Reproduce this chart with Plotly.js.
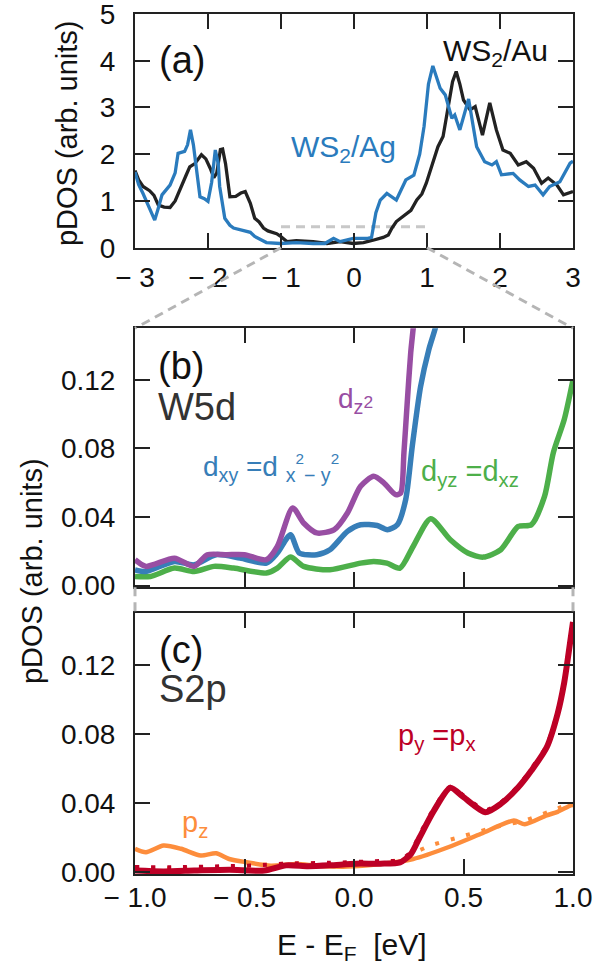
<!DOCTYPE html>
<html><head><meta charset="utf-8">
<script src="https://cdn.plot.ly/plotly-3.0.1.min.js"></script>
<style>html,body{margin:0;padding:0;background:#fff;} #plot{width:598px;height:971px;}</style>
</head><body><div id="plot"></div>
<script>
// ---------- Panel (a): total pDOS, E - EF in eV ----------
const auX = [-3.0,-2.95,-2.89,-2.80,-2.74,-2.68,-2.60,-2.52,-2.45,-2.38,-2.30,-2.25,-2.18,-2.09,-2.03,-1.97,-1.92,-1.88,-1.83,-1.80,-1.76,-1.70,-1.62,-1.55,-1.49,-1.42,-1.36,-1.30,-1.24,-1.18,-1.13,-1.06,-1.01,-0.92,-0.79,-0.56,-0.37,-0.19,-0.01,0.13,0.26,0.40,0.47,0.52,0.58,0.70,0.78,0.86,0.93,0.99,1.08,1.15,1.22,1.29,1.35,1.40,1.45,1.50,1.59,1.66,1.76,1.86,1.95,2.04,2.14,2.25,2.36,2.46,2.57,2.66,2.78,2.87,3.0];
const auY = [1.65,1.45,1.31,1.22,1.12,0.91,0.87,0.86,1.00,1.24,1.55,1.73,1.80,1.99,1.90,1.70,1.50,1.60,2.10,2.11,1.80,1.09,1.10,1.17,1.20,0.95,0.63,0.55,0.42,0.36,0.34,0.30,0.25,0.13,0.15,0.13,0.09,0.13,0.09,0.11,0.16,0.22,0.27,0.42,0.56,0.70,0.80,1.02,1.15,1.38,1.81,2.16,2.38,2.98,3.55,3.77,3.50,3.16,2.95,3.02,2.41,3.10,2.52,2.09,2.02,1.77,1.84,1.70,1.38,1.49,1.34,1.13,1.20];
const agX = [-3.0,-2.95,-2.89,-2.80,-2.73,-2.68,-2.63,-2.52,-2.45,-2.41,-2.32,-2.28,-2.24,-2.20,-2.15,-2.11,-2.05,-2.00,-1.95,-1.90,-1.86,-1.84,-1.77,-1.70,-1.65,-1.49,-1.42,-1.36,-1.28,-1.20,-1.01,-0.79,-0.56,-0.40,-0.28,-0.19,-0.01,0.19,0.24,0.30,0.36,0.45,0.58,0.71,0.82,0.90,0.96,1.02,1.08,1.18,1.25,1.34,1.38,1.45,1.57,1.64,1.68,1.79,1.89,1.95,2.02,2.18,2.27,2.39,2.48,2.59,2.68,2.82,2.96,3.0];
const agY = [1.62,1.35,1.16,0.85,0.59,0.85,1.13,1.34,1.60,2.02,2.06,2.20,2.52,2.20,1.60,1.09,1.05,0.99,1.40,2.09,1.80,1.31,0.63,0.48,0.42,0.36,0.33,0.24,0.18,0.11,0.09,0.11,0.09,0.09,0.20,0.13,0.20,0.20,0.22,0.75,1.02,1.16,1.02,1.45,1.55,2.00,2.60,3.50,3.89,3.41,3.27,2.77,2.84,2.52,3.18,2.59,2.16,1.84,1.77,1.84,1.56,1.59,1.45,1.31,1.34,1.13,1.31,1.41,1.81,1.85];

// ---------- Panel (b): W 5d orbitals ----------
const dz2X = [-1.0,-0.95,-0.82,-0.73,-0.67,-0.58,-0.50,-0.40,-0.35,-0.28,-0.23,-0.17,-0.09,-0.03,0.03,0.09,0.136,0.19,0.213,0.228,0.243,0.259,0.271,0.29];
const dz2Y = [0.0151,0.0112,0.0160,0.0112,0.0180,0.0180,0.0180,0.0151,0.0228,0.0453,0.0365,0.0307,0.0326,0.0423,0.0579,0.0637,0.0599,0.0530,0.0540,0.0774,0.1066,0.1358,0.151,0.18];
const dxyX = [-1.0,-0.95,-0.82,-0.73,-0.63,-0.52,-0.40,-0.35,-0.29,-0.25,-0.17,-0.11,-0.03,0.03,0.106,0.152,0.198,0.236,0.266,0.304,0.342,0.373,0.40];
const dxyY = [0.0092,0.0082,0.0141,0.0121,0.0180,0.0160,0.0131,0.0190,0.0297,0.0190,0.0180,0.0209,0.0316,0.0355,0.0350,0.0326,0.0355,0.0501,0.0812,0.116,0.1377,0.151,0.17];
const dyzX = [-1.0,-0.93,-0.82,-0.73,-0.64,-0.55,-0.40,-0.35,-0.29,-0.23,-0.11,0.03,0.09,0.15,0.21,0.27,0.35,0.44,0.52,0.59,0.67,0.75,0.81,0.87,0.91,0.96,1.0];
const dyzY = [0.0053,0.0053,0.0102,0.0082,0.0112,0.0102,0.0073,0.0102,0.0166,0.0112,0.0092,0.0131,0.0141,0.0131,0.0102,0.0228,0.0390,0.0267,0.0190,0.0166,0.0209,0.0345,0.0355,0.0520,0.0774,0.0968,0.120];

// ---------- Panel (c): S 2p orbitals ----------
const pyX = [-1.0,-0.87,-0.73,-0.57,-0.41,-0.31,-0.21,-0.11,0.01,0.12,0.21,0.26,0.30,0.365,0.44,0.50,0.60,0.67,0.75,0.81,0.88,0.93,0.96,0.98,1.0];
const pyY = [0.0010,0.0005,0.0010,0.0015,0.0010,0.0040,0.0035,0.0040,0.0050,0.0050,0.0057,0.0106,0.0203,0.0357,0.0490,0.0435,0.0348,0.0396,0.0492,0.0589,0.0724,0.0920,0.110,0.127,0.145];
const pyAltX = [-1.0,-0.8,-0.6,-0.45,-0.31,-0.11,0.12,0.21,0.26,0.30,0.365,0.44,0.50,0.60,0.67,0.75,0.81,0.88,0.93,0.96,0.98,1.0];
const pyAltY = [0.0030,0.0030,0.0035,0.0040,0.0050,0.0055,0.0065,0.0070,0.0120,0.0220,0.0370,0.0495,0.0445,0.0360,0.0405,0.0500,0.0600,0.0735,0.0930,0.111,0.128,0.146];
const pzX = [-1.0,-0.95,-0.87,-0.79,-0.70,-0.63,-0.57,-0.49,-0.38,-0.26,-0.17,-0.03,0.12,0.27,0.43,0.58,0.73,0.78,0.88,0.93,0.99,1.0];
const pzY = [0.0136,0.0116,0.0155,0.0136,0.0097,0.0110,0.0077,0.0058,0.0038,0.0048,0.0038,0.0033,0.0048,0.0077,0.0145,0.0223,0.0300,0.0278,0.0330,0.0350,0.0388,0.0390];
const pzAltX = [-1.0,-0.6,-0.3,0.0,0.2,0.27,0.35,0.50,0.655,0.78,0.93,1.0];
const pzAltY = [0.0020,0.0030,0.0050,0.0050,0.0070,0.0110,0.0155,0.0210,0.0265,0.0300,0.0370,0.0405];

// ---------- ticks ----------
const aXticks = [-3,-2,-1,0,1,2,3];
const aXtext  = ['\u2212 3','\u2212 2','\u2212 1','0','1','2','3'];
const aYticks = [0,1,2,3,4,5];
const bcXticks = [-1,-0.5,0,0.5,1];
const bcXtext  = ['\u2212 1.0','\u2212 0.5','0.0','0.5','1.0'];
const bcYticks = [0,0.04,0.08,0.12];
const bcYtext  = ['0.00','0.04','0.08','0.12'];

// zoom window marked in panel (a)
const zoomWin = {x0:-1, x1:1, y:0.45};

const C = {au:'#222222', ag:'#2a7bbd', dz2:'#984ea3', dxy:'#377eb8', dyz:'#4daf4a', py:'#bd0026', pz:'#fd8d3c', ax:'#222222', gray:'#b5b5b5'};
const FONT = 'Liberation Sans, Arial, Helvetica, sans-serif';

const traces = [
  {x:auX, y:auY, xaxis:'x', yaxis:'y', mode:'lines', line:{color:C.au, width:3.3}},
  {x:agX, y:agY, xaxis:'x', yaxis:'y', mode:'lines', line:{color:C.ag, width:3.3}},
  {x:dyzX, y:dyzY, xaxis:'x2', yaxis:'y2', mode:'lines', line:{color:C.dyz, width:5.5, shape:'spline', smoothing:0.7}},
  {x:dxyX, y:dxyY, xaxis:'x2', yaxis:'y2', mode:'lines', line:{color:C.dxy, width:5.5, shape:'spline', smoothing:0.7}},
  {x:dz2X, y:dz2Y, xaxis:'x2', yaxis:'y2', mode:'lines', line:{color:C.dz2, width:5.5, shape:'spline', smoothing:0.7}},
  {x:pzX, y:pzY, xaxis:'x3', yaxis:'y3', mode:'lines', line:{color:C.pz, width:4.5, shape:'spline', smoothing:0.7}},
  {x:pzAltX, y:pzAltY, xaxis:'x3', yaxis:'y3', mode:'lines', line:{color:C.pz, width:4, dash:'4px,12px', shape:'spline', smoothing:0.7}},
  {x:pyX, y:pyY, xaxis:'x3', yaxis:'y3', mode:'lines', line:{color:C.py, width:6, shape:'spline', smoothing:0.7}},
  {x:pyAltX, y:pyAltY, xaxis:'x3', yaxis:'y3', mode:'lines', line:{color:C.py, width:4, dash:'4px,12px', shape:'spline', smoothing:0.7}}
];

const H = 971, T = 14, B = 97;
const plotH = H - T - B;
function py2paper(p){ return (H - B - p) / plotH; }
const domA = [py2paper(247.7), 1];
const domB = [py2paper(587.3), py2paper(328.3)];
const domC = [0, py2paper(613.3)];

const tickFont = {family:FONT, size:28, color:'#111'};
function axBase(extra){
  return Object.assign({showline:true, linecolor:C.ax, linewidth:2, mirror:'ticks', ticks:'inside', ticklen:15, tickwidth:2, tickcolor:C.ax,
    showgrid:false, zeroline:false, tickfont:tickFont, tickmode:'array', fixedrange:true, ticklabeloverflow:'allow'}, extra);
}

// connectors from zoom window in (a) to panel (b), and (b) to (c)
const xaRange = [-3,3];
const px0 = (zoomWin.x0 - xaRange[0])/(xaRange[1]-xaRange[0]);
const px1 = (zoomWin.x1 - xaRange[0])/(xaRange[1]-xaRange[0]);
const dashLine = {color:C.gray, width:3, dash:'9px,6px'};
const shapes = [
  {type:'line', xref:'x', yref:'y', x0:zoomWin.x0, x1:zoomWin.x1, y0:zoomWin.y, y1:zoomWin.y, line:{color:'#c8c8c8', width:3, dash:'9px,6px'}, layer:'below'},
  {type:'line', xref:'paper', yref:'paper', x0:px0, y0:domA[0], x1:0, y1:domB[1], line:dashLine},
  {type:'line', xref:'paper', yref:'paper', x0:px1, y0:domA[0], x1:1, y1:domB[1], line:dashLine},
  {type:'line', xref:'paper', yref:'paper', x0:0, y0:domB[0], x1:0, y1:domC[1], line:dashLine},
  {type:'line', xref:'paper', yref:'paper', x0:1, y0:domB[0], x1:1, y1:domC[1], line:dashLine}
];

function ann(text, xref, yref, x, y, size, color, extra){
  return Object.assign({text:text, xref:xref, yref:yref, x:x, y:y, showarrow:false, xanchor:'left', yanchor:'middle',
    font:{family:FONT, size:size, color:color}}, extra||{});
}
const SQ = '<sup><span style="font-size:78%">2</span></sup>';
const annotations = [
  ann('(a)', 'x domain', 'y domain', 0.05, 0.805, 38, '#111'),
  ann('WS<sub>2</sub>/Au', 'x domain', 'y domain', 0.822, 0.835, 30, '#111', {xanchor:'center'}),
  ann('WS<sub>2</sub>/Ag', 'x domain', 'y domain', 0.475, 0.425, 30, C.ag, {xanchor:'center'}),
  ann('(b)', 'x2 domain', 'y2 domain', 0.048, 0.855, 38, '#111'),
  ann('W5d', 'x2 domain', 'y2 domain', 0.048, 0.695, 38, '#333'),
  ann('d<sub>z</sub><span style="font-size:62%">2</span>', 'x2 domain', 'y2 domain', 0.46, 0.72, 28, C.dz2),
  ann('d<sub>xy</sub> =d <sub>x</sub>' + SQ + '<sub>\u2212 y</sub>' + SQ, 'x2 domain', 'y2 domain', 0.15, 0.46, 28, C.dxy),
  ann('d<sub>yz</sub> =d<sub>xz</sub>', 'x2 domain', 'y2 domain', 0.648, 0.44, 29, C.dyz),
  ann('(c)', 'x3 domain', 'y3 domain', 0.05, 0.86, 38, '#111'),
  ann('S2p', 'x3 domain', 'y3 domain', 0.05, 0.71, 38, '#333'),
  ann('p<sub>z</sub>', 'x3 domain', 'y3 domain', 0.103, 0.19, 29, C.pz),
  ann('p<sub>y</sub> =p<sub>x</sub>', 'x3 domain', 'y3 domain', 0.597, 0.525, 29, C.py),
  ann('pDOS (arb. units)', 'paper', 'paper', -0.155, py2paper(133), 29, '#111', {xanchor:'center', textangle:-90}),
  ann('pDOS (arb. units)', 'paper', 'paper', -0.235, py2paper(571), 29, '#111', {xanchor:'center', textangle:-90}),
  ann('E - E<sub>F</sub>\u00a0 [eV]', 'x3 domain', 'paper', 0.495, py2paper(947), 30, '#111', {xanchor:'center'})
];

const layout = {
  width:598, height:971, margin:{l:135, r:25, t:T, b:B}, showlegend:false,
  paper_bgcolor:'#fff', plot_bgcolor:'#fff',
  xaxis: axBase({domain:[0,1], anchor:'y', range:xaRange, tickvals:aXticks, ticktext:aXtext, ticklabelstandoff:4}),
  yaxis: axBase({domain:domA, anchor:'x', range:[0,5.0001], tickvals:aYticks, ticktext:aYticks.map(String), ticklabelstandoff:12}),
  xaxis2: axBase({domain:[0,1], anchor:'y2', range:[-1,1], tickvals:bcXticks, showticklabels:false}),
  yaxis2: axBase({domain:domB, anchor:'x2', range:[-0.001,0.15], tickvals:bcYticks, ticktext:bcYtext, ticklabelstandoff:12}),
  xaxis3: axBase({domain:[0,1], anchor:'y3', range:[-1,1], tickvals:bcXticks, ticktext:bcXtext, ticklabelstandoff:-3}),
  yaxis3: axBase({domain:domC, anchor:'x3', range:[-0.001,0.15], tickvals:bcYticks, ticktext:bcYtext, ticklabelstandoff:12}),
  shapes:shapes, annotations:annotations
};

Plotly.newPlot('plot', traces, layout, {displayModeBar:false, staticPlot:true});
</script></body></html>
